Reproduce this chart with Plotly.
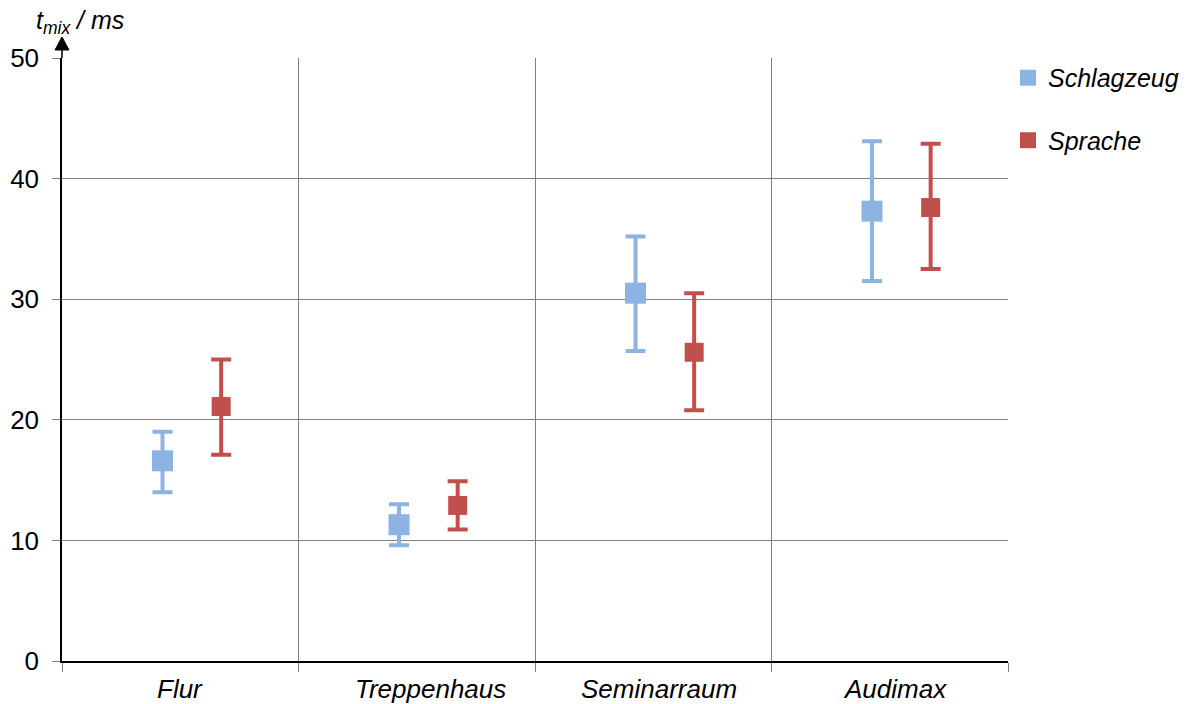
import plotly.graph_objects as go

categories = ["Flur", "Treppenhaus", "Seminarraum", "Audimax"]

schlag_mean = [16.6, 11.3, 30.5, 37.3]
schlag_upper = [19.0, 13.0, 35.2, 43.1]
schlag_lower = [14.0, 9.6, 25.7, 31.5]

sprache_mean = [21.1, 12.9, 25.6, 37.6]
sprache_upper = [25.0, 14.9, 30.5, 42.9]
sprache_lower = [17.1, 10.9, 20.8, 32.5]

y_ticks = [0, 10, 20, 30, 40, 50]

BLUE = "#8DB3E2"
RED = "#C0504D"
FONT = "Liberation Sans, Arial, sans-serif"

off_s = 0.425
off_r = 0.673
label_xshift = [0, 14, 6, 5]

fig = go.Figure()

def add_series(name, means, upper, lower, offset, color, size):
    xs = [i + offset for i in range(len(categories))]
    fig.add_trace(go.Scatter(
        x=xs, y=means, mode="markers", name=name, showlegend=False,
        marker=dict(symbol="square", size=size, color=color),
        error_y=dict(type="data", symmetric=False,
                     array=[u - m for u, m in zip(upper, means)],
                     arrayminus=[m - l for m, l in zip(means, lower)],
                     color=color, thickness=4, width=10),
    ))

add_series("Schlagzeug", schlag_mean, schlag_upper, schlag_lower, off_s, BLUE, 21)
add_series("Sprache", sprache_mean, sprache_upper, sprache_lower, off_r, RED, 19)

# legend-only traces
for name, color, grp in [("Schlagzeug", BLUE, "a"), ("Sprache", RED, "b")]:
    fig.add_trace(go.Scatter(
        x=[None], y=[None], mode="markers", name=f"<i>{name}</i>", legendgroup=grp,
        marker=dict(symbol="square", size=18, color=color),
    ))

# category labels
for i, c in enumerate(categories):
    fig.add_annotation(x=i + 0.5, y=0, xref="x", yref="paper", yshift=-28,
                       xshift=label_xshift[i],
                       text=f"<i>{c}</i>", showarrow=False, yanchor="middle",
                       font=dict(family=FONT, size=26, color="black"))

# axis title
fig.add_annotation(x=0, y=1, xref="paper", yref="paper", xshift=-28, yshift=36,
                   text="<i>t</i><sub><i>mix</i></sub><i> / ms</i>",
                   showarrow=False, xanchor="left", yanchor="middle",
                   font=dict(family=FONT, size=25, color="black"))

# arrow head on y axis
fig.add_shape(type="path", xref="paper", yref="paper", xsizemode="pixel", ysizemode="pixel",
              xanchor=0, yanchor=1, path="M-7,8 L7,8 L0,21 Z",
              fillcolor="black", line=dict(color="black", width=1))
fig.add_shape(type="line", xref="paper", yref="paper", xsizemode="pixel", ysizemode="pixel",
              xanchor=0, yanchor=1, x0=0, x1=0, y0=0, y1=10,
              line=dict(color="black", width=1.5))

fig.update_layout(
    width=1197, height=704,
    margin=dict(l=54, r=197, t=50, b=51),
    plot_bgcolor="white", paper_bgcolor="white",
    font=dict(family=FONT, size=25, color="black"),
    xaxis=dict(range=[0, 4], tickvals=[0, 1, 2, 3, 4], showticklabels=False,
               showgrid=True, gridcolor="#808080", gridwidth=1,
               showline=True, linecolor="black", linewidth=1.5,
               ticks="outside", ticklen=9, tickcolor="#808080", zeroline=False,
               automargin=False),
    yaxis=dict(range=[0, 50], tickvals=y_ticks,
               showgrid=True, gridcolor="#808080", gridwidth=1,
               showline=True, linecolor="black", linewidth=1.5,
               ticks="outside", ticklen=8, tickcolor="#808080",
               ticklabelstandoff=8, zeroline=False, automargin=False,
               tickfont=dict(size=26)),
    legend=dict(x=1.0, y=1.005, xanchor="left", yanchor="top",
                font=dict(family=FONT, size=25), tracegroupgap=27,
                itemwidth=30, bgcolor="rgba(0,0,0,0)"),
    showlegend=True,
)

fig.write_html("out.html")
